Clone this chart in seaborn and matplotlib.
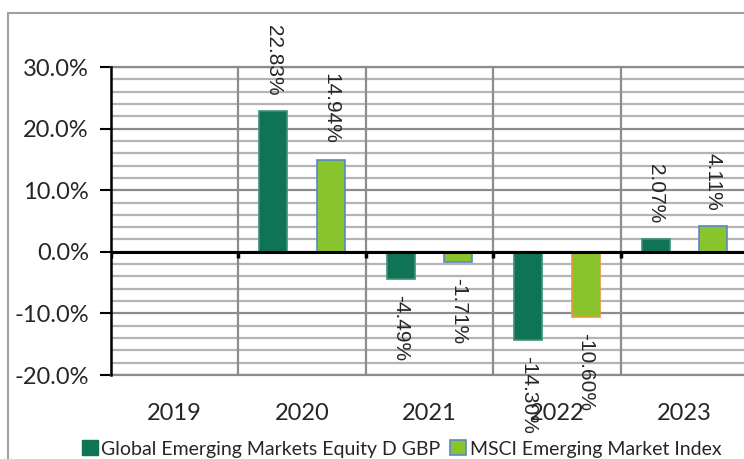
import numpy as np
import pandas as pd
import matplotlib
matplotlib.use("Agg")
import matplotlib.pyplot as plt
import seaborn as sns
from matplotlib.patches import Rectangle
from matplotlib.ticker import FuncFormatter, MultipleLocator

years = ["2019", "2020", "2021", "2022", "2023"]
fund_name = "Global Emerging Markets Equity D GBP"
index_name = "MSCI Emerging Market Index"
fund_values = [np.nan, 22.83, -4.49, -14.30, 2.07]
index_values = [np.nan, 14.94, -1.71, -10.60, 4.11]

df = pd.DataFrame({
    "year": years * 2,
    "series": [fund_name] * len(years) + [index_name] * len(years),
    "value": fund_values + index_values,
})

sns.set_style("white")
plt.rcParams['font.family'] = ['Lato', 'DejaVu Sans']

dark = "#0E7455"
light = "#8AC42C"
fig = plt.figure(figsize=(7.44, 4.59), dpi=100)
ax = fig.add_axes([111/744, 1-375/459, 637/744, 308/459])

sns.barplot(data=df, x="year", y="value", hue="series", order=years,
            hue_order=[fund_name, index_name],
            palette=[dark, light], saturation=1, width=0.9, gap=0.51, ax=ax,
            legend=False, zorder=3)

# edge colours and labels
for c, vals, is_index in zip(ax.containers, [fund_values, index_values], [False, True]):
    for p in c.patches:
        xc = p.get_x() + p.get_width() / 2
        i = int(round(xc))
        v = vals[i]
        if is_index:
            p.set_edgecolor("#E59A3A" if years[i] == "2022" else "#5A86CC")
        else:
            p.set_edgecolor("#3E9078")
        p.set_linewidth(1.2)
        if np.isnan(v):
            continue
        off = 11.5 if v >= 0 else -11.5
        ax.annotate(f"{v:.2f}%", (xc, v), xytext=(0, off), textcoords="offset points",
                    rotation=270, ha="center", va="bottom" if v >= 0 else "top",
                    fontsize=15, family="Liberation Sans", zorder=5,
                    annotation_clip=False)

ax.set_xlim(-0.5, 4.5)
ax.set_ylim(-20, 30)
ax.yaxis.set_major_locator(MultipleLocator(10))
ax.yaxis.set_minor_locator(MultipleLocator(2))
ax.yaxis.set_major_formatter(FuncFormatter(lambda v, p: f"{v:.1f}%"))
ax.grid(axis="y", which="minor", color="#b4b4b4", lw=1.6, zorder=0)
ax.grid(axis="y", which="major", color="#8c8c8c", lw=1.6, zorder=0)
for b in np.arange(0.5, 4.5, 1):
    ax.axvline(b, color="#8c8c8c", lw=1.6, zorder=1)
    ax.plot([b, b], [0, -1.0], color="black", lw=2.5, zorder=4, solid_capstyle="butt")
ax.plot([-0.5, -0.5], [0, -1.0], color="black", lw=2.5, zorder=4, solid_capstyle="butt")
ax.axhline(0, color="black", lw=2.2, zorder=4)

ax.set_xlabel("")
ax.set_ylabel("")
ax.tick_params(axis="y", which="major", direction="out", length=8, width=1.5,
               color="black", left=True, labelsize=17, pad=8)
ax.tick_params(axis="y", which="minor", length=0)
ax.tick_params(axis="x", length=0, labelsize=17, pad=20)
for s in ["top", "bottom", "right"]:
    ax.spines[s].set_color("#8c8c8c")
    ax.spines[s].set_linewidth(1.6)
ax.spines["left"].set_color("black")
ax.spines["left"].set_linewidth(1.8)
ax.spines["left"].set_zorder(5)

handles = [Rectangle((0, 0), 1, 1, facecolor=dark, edgecolor=dark),
           Rectangle((0, 0), 1, 1, facecolor=light, edgecolor="#5A86CC", lw=1.2)]
fig.legend(handles, [fund_name, index_name], loc="center", bbox_to_anchor=(0.54, 1-449/459),
           ncol=2, frameon=False, fontsize=14, handlelength=0.8, handleheight=0.8,
           handletextpad=0.2, columnspacing=0.5, borderaxespad=0)

fig.patches.append(Rectangle((8/744, -0.01), 1.0, 1-13/459+0.01, transform=fig.transFigure,
                             fill=False, edgecolor="#a0a0a0", lw=1.5, zorder=0))

fig.savefig("out.png", dpi=100)
